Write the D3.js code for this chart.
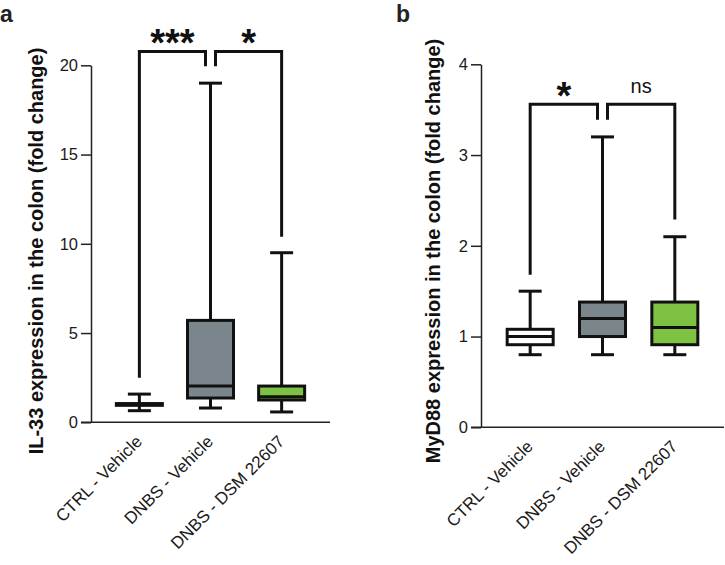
<!DOCTYPE html>
<html>
<head>
<meta charset="utf-8">
<script src="https://cdn.jsdelivr.net/npm/d3@7"></script>
<style>
body{margin:0;background:#fff;}
svg{display:block;font-family:"Liberation Sans",Arial,sans-serif;}
</style>
</head>
<body>
<svg id="chart" width="725" height="565"></svg>
<script>
// ---------- data ----------
const categories = ["CTRL - Vehicle", "DNBS - Vehicle", "DNBS - DSM 22607"];
const fills = ["#ffffff", "#7b868c", "#7dc242"];

// Panel a: IL-33
const il33Min    = [0.65, 0.80, 0.58];
const il33Q1     = [0.95, 1.36, 1.25];
const il33Median = [1.00, 2.03, 1.43];
const il33Q3     = [1.05, 5.71, 2.03];
const il33Max    = [1.58, 19.0, 9.5];
const il33Ticks  = [0, 5, 10, 15, 20];

// Panel b: MyD88
const myd88Min    = [0.80, 0.80, 0.80];
const myd88Q1     = [0.91, 1.00, 0.91];
const myd88Median = [1.00, 1.20, 1.10];
const myd88Q3     = [1.08, 1.38, 1.38];
const myd88Max    = [1.50, 3.20, 2.10];
const myd88Ticks  = [0, 1, 2, 3, 4];

// significance brackets (values in data units)
const il33Sig  = [{a:0, b:1, label:"***", top:20.78, legA:2.5,  legB:19.94},
                  {a:1, b:2, label:"*",   top:20.78, legA:19.94, legB:10.4}];
const myd88Sig = [{a:0, b:1, label:"*",  top:3.56, legA:1.68, legB:3.39},
                  {a:1, b:2, label:"ns", top:3.56, legA:3.39, legB:2.29}];

const svg = d3.select("#chart");
const FONT = "'Liberation Sans',Arial,sans-serif";

function panel(opts){
  const g = svg.append("g");
  const x = d3.scalePoint().domain(categories).range(opts.xr).padding(0.68);
  const y = d3.scaleLinear().domain([0, opts.ymax]).range(opts.yr);
  const stats = categories.map((c,i)=>({c, i, min:opts.min[i], q1:opts.q1[i], med:opts.med[i], q3:opts.q3[i], max:opts.max[i]}));

  // y axis
  const ya = g.append("g").attr("transform",`translate(${opts.xr[0]},0)`)
    .call(d3.axisLeft(y).tickValues(opts.ticks).tickFormat(d3.format("d"))
      .tickSize(10).tickPadding(3).tickSizeOuter(0));
  ya.select(".domain").attr("stroke","#222").attr("stroke-width",1.5);
  ya.selectAll(".tick line").attr("stroke","#222").attr("stroke-width",1.5);
  ya.selectAll(".tick text").attr("font-size",16.5).attr("fill","#1a1a1a")
    .attr("font-family",FONT);

  // x axis
  const xa = g.append("g").attr("transform",`translate(0,${opts.yr[0]})`)
    .call(d3.axisBottom(x).tickSize(0).tickSizeOuter(0));
  xa.select(".domain").attr("stroke","#222").attr("stroke-width",1.5)
    .attr("d",`M${opts.xr[0]-10},0H${opts.xr[1]}`);
  xa.selectAll(".tick text")
    .attr("font-size",17).attr("fill","#1a1a1a")
    .attr("font-family",FONT)
    .attr("text-anchor","end")
    .attr("transform","translate(-1,16) rotate(-45)")
    .attr("dy","0.35em").attr("y",0);

  const bw = 46, cw = 23, sw = 3;
  const box = g.append("g").selectAll("g").data(stats).join("g");
  // whiskers
  box.append("line").attr("x1",d=>x(d.c)).attr("x2",d=>x(d.c))
    .attr("y1",d=>y(d.max)).attr("y2",d=>y(d.min))
    .attr("stroke","#111").attr("stroke-width",sw);
  box.append("line").attr("x1",d=>x(d.c)-cw/2).attr("x2",d=>x(d.c)+cw/2)
    .attr("y1",d=>y(d.max)).attr("y2",d=>y(d.max)).attr("stroke","#111").attr("stroke-width",sw);
  box.append("line").attr("x1",d=>x(d.c)-cw/2).attr("x2",d=>x(d.c)+cw/2)
    .attr("y1",d=>y(d.min)).attr("y2",d=>y(d.min)).attr("stroke","#111").attr("stroke-width",sw);
  // box
  box.append("rect").attr("x",d=>x(d.c)-bw/2).attr("width",bw)
    .attr("y",d=>y(d.q3)).attr("height",d=>Math.max(0.5,y(d.q1)-y(d.q3)))
    .attr("fill",d=>fills[d.i]).attr("stroke","#111").attr("stroke-width",sw);
  box.append("line").attr("x1",d=>x(d.c)-bw/2).attr("x2",d=>x(d.c)+bw/2)
    .attr("y1",d=>y(d.med)).attr("y2",d=>y(d.med)).attr("stroke","#111").attr("stroke-width",sw);

  // significance brackets
  const off = 5;
  opts.sig.forEach((s,k)=>{
    const xa_ = x(categories[s.a]) + (k===1 ? off : 0);
    const xb_ = x(categories[s.b]) - (k===0 ? off : 0);
    g.append("path")
      .attr("d",`M${xa_},${y(s.legA)}V${y(s.top)}H${xb_}V${y(s.legB)}`)
      .attr("fill","none").attr("stroke","#111").attr("stroke-width",sw)
      .attr("stroke-linejoin","miter");
    const isStar = s.label.indexOf("*")>=0;
    g.append("text").attr("x",(xa_+xb_)/2)
      .attr("y", y(s.top) + (isStar? 5 : -11.5))
      .attr("text-anchor","middle")
      .attr("font-size", isStar ? 38 : 20)
      .attr("font-weight", isStar ? "bold" : "normal")
      .attr("fill","#111")
      .text(s.label);
  });

  // y label
  g.append("text")
    .attr("transform",`translate(${opts.labelX},${opts.labelY}) rotate(-90)`)
    .attr("text-anchor","middle").attr("font-size",20).attr("font-weight","bold")
    .attr("fill","#111").text(opts.ylabel);

  // panel letter
  g.append("text").attr("x",opts.letterX).attr("y",22).attr("font-size",23)
    .attr("font-weight","bold").attr("fill","#222").text(opts.letter);
}

panel({xr:[91,330], yr:[422.3,65.3], ymax:20, ticks:il33Ticks,
  min:il33Min, q1:il33Q1, med:il33Median, q3:il33Q3, max:il33Max, sig:il33Sig,
  ylabel:"IL-33 expression in the colon (fold change)", labelX:43, labelY:251,
  letter:"a", letterX:0});

panel({xr:[481,724], yr:[427.3,64.3], ymax:4, ticks:myd88Ticks,
  min:myd88Min, q1:myd88Q1, med:myd88Median, q3:myd88Q3, max:myd88Max, sig:myd88Sig,
  ylabel:"MyD88 expression in the colon (fold change)", labelX:440, labelY:251,
  letter:"b", letterX:396});
</script>
</body>
</html>
